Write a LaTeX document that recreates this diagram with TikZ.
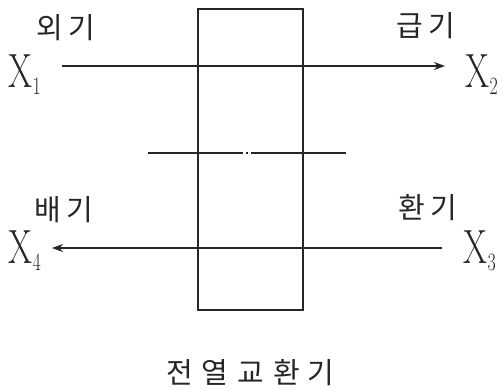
\documentclass[tikz,border=0pt]{standalone}
\usepackage{fontspec}
\newfontfamily\kr{Noto Sans CJK KR}
\usetikzlibrary{arrows.meta}
\tikzset{
  krlabel/.style={font=\kr\fontsize{29}{29}\selectfont, inner sep=0pt, text=black!85},
  xlabel/.style={font=\fontsize{48}{48}\selectfont, inner sep=0pt, text=black!85, xscale=0.72},
  flow/.style={line width=1.6pt, draw=black!85, -{Stealth[length=11pt,width=8pt]}},
}
\begin{document}
\begin{tikzpicture}[x=1pt,y=-1pt]
\useasboundingbox[fill=white] (0,0) rectangle (504,389);
% exchanger body
\node[draw=black!85, line width=2pt, minimum width=105pt, minimum height=301pt, inner sep=0pt] (hx) at (250.5,159) {};
% labels
\node[krlabel] (oa) at (66,28) {외\hspace{6pt}기};
\node[krlabel] (sa) at (426,26) {급\hspace{6pt}기};
\node[krlabel] (ea) at (64,210) {배\hspace{6pt}기};
\node[krlabel] (ra) at (428,208) {환\hspace{6pt}기};
\node[xlabel, anchor=base] (x1) at (25,87) {X$_{\scriptstyle 1}$};
\node[xlabel, anchor=base] (x2) at (482,87) {X$_{\scriptstyle 2}$};
\node[xlabel, anchor=base] (x3) at (480,263) {X$_{\scriptstyle 3}$};
\node[xlabel, anchor=base] (x4) at (25,263) {X$_{\scriptstyle 4}$};
\node[krlabel] (title) at (250,373) {전\hspace{9pt}열\hspace{9pt}교\hspace{9pt}환\hspace{7pt}기};
% flows
\coordinate (a1) at (62,66);
\coordinate (a2) at (445,66);
\coordinate (b1) at (442,248);
\coordinate (b2) at (52,248);
\draw[flow] (a1) -- (a2);
\draw[flow] (b1) -- (b2);
% partition
\coordinate (p1) at (148,153);
\coordinate (p2) at (347,153);
\draw[line width=1.6pt, draw=black!85, dash pattern=on 95pt off 3pt on 2pt off 3pt] (p1) -- (p2);
\end{tikzpicture}
\end{document}
